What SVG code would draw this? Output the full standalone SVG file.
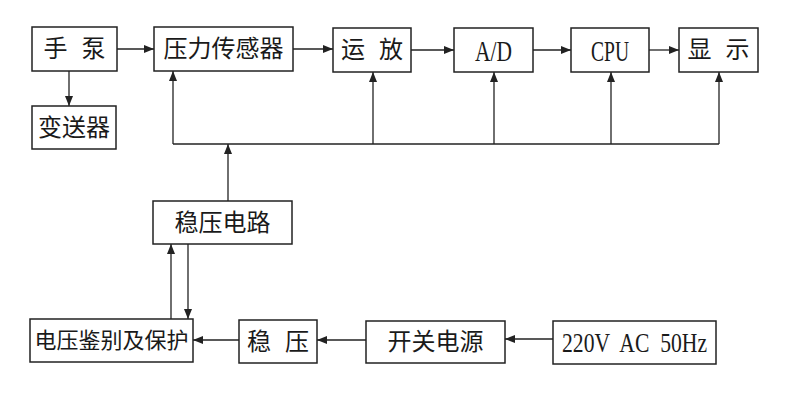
<svg xmlns="http://www.w3.org/2000/svg" width="790" height="403" viewBox="0 0 790 403">
<defs>
<style>
.box{fill:#fff;stroke:#222;stroke-width:1.5}
.cn{font-family:"Liberation Serif","Noto Sans CJK SC",serif;font-size:24px;fill:#1a1a1a;text-anchor:middle;dominant-baseline:central}
.en{font-family:"Liberation Serif",serif;font-size:29px;fill:#1a1a1a;text-anchor:middle;dominant-baseline:central}
.ln{fill:none;stroke:#222;stroke-width:1.3}
.arr{marker-end:url(#ah)}
</style>
<marker id="ah" viewBox="0 0 10 8" refX="10" refY="4" markerWidth="10" markerHeight="8" markerUnits="userSpaceOnUse" orient="auto">
<path d="M0,0 L10,4 L0,8 Z" fill="#222"/>
</marker>
</defs>
<rect width="790" height="403" fill="#fff"/>
<g id="connectors">
<line class="ln arr" x1="117" y1="49" x2="154" y2="49"/>
<line class="ln arr" x1="293" y1="49" x2="333" y2="49"/>
<line class="ln arr" x1="411" y1="50" x2="454" y2="50"/>
<line class="ln arr" x1="533" y1="50" x2="571" y2="50"/>
<line class="ln arr" x1="649" y1="50" x2="679" y2="50"/>
<line class="ln arr" x1="69" y1="71" x2="69" y2="106"/>
<polyline class="ln" points="173,144 719,144"/>
<line class="ln arr" x1="173" y1="144" x2="173" y2="71"/>
<line class="ln arr" x1="373" y1="144" x2="373" y2="72"/>
<line class="ln arr" x1="494" y1="144" x2="494" y2="72"/>
<line class="ln arr" x1="611" y1="144" x2="611" y2="72"/>
<line class="ln arr" x1="719" y1="144" x2="719" y2="72"/>
<line class="ln arr" x1="228" y1="201" x2="228" y2="144"/>
<line class="ln arr" x1="171" y1="319" x2="171" y2="244"/>
<line class="ln arr" x1="188" y1="244" x2="188" y2="319"/>
<line class="ln arr" x1="553" y1="339" x2="505" y2="339"/>
<line class="ln arr" x1="366" y1="340" x2="317" y2="340"/>
<line class="ln arr" x1="239" y1="340" x2="193" y2="340"/>
</g>
<g id="shoubeng"><rect class="box" x="32" y="27" width="85" height="44"/><text class="cn" x="74.5" y="49" style="word-spacing:8px">手 泵</text></g>
<g id="sensor"><rect class="box" x="154" y="27" width="139" height="44"/><text class="cn" x="223.5" y="49">压力传感器</text></g>
<g id="amp"><rect class="box" x="333" y="28" width="78" height="44"/><text class="cn" x="372" y="50" style="word-spacing:8px">运 放</text></g>
<g id="ad"><rect class="box" x="454" y="28" width="79" height="44"/><text class="en" x="493.5" y="51" textLength="37" lengthAdjust="spacingAndGlyphs">A/D</text></g>
<g id="cpu"><rect class="box" x="571" y="28" width="78" height="44"/><text class="en" x="610" y="51" textLength="38" lengthAdjust="spacingAndGlyphs">CPU</text></g>
<g id="display"><rect class="box" x="679" y="28" width="79" height="44"/><text class="cn" x="718.5" y="50" style="word-spacing:8px">显 示</text></g>
<g id="transmitter"><rect class="box" x="32" y="106" width="84" height="43"/><text class="cn" x="74" y="127.5">变送器</text></g>
<g id="regcircuit"><rect class="box" x="153" y="201" width="139" height="43"/><text class="cn" x="222.5" y="222.5">稳压电路</text></g>
<g id="protect"><rect class="box" x="30" y="319" width="163" height="43"/><text class="cn" x="111.5" y="340.5" style="font-size:22px">电压鉴别及保护</text></g>
<g id="reg"><rect class="box" x="239" y="320" width="78" height="43"/><text class="cn" x="278" y="341.5" style="word-spacing:8px">稳 压</text></g>
<g id="psu"><rect class="box" x="366" y="321" width="139" height="42"/><text class="cn" x="435.5" y="342">开关电源</text></g>
<g id="ac"><rect class="box" x="553" y="321" width="163" height="43"/><text class="en" x="634.5" y="343" textLength="145" lengthAdjust="spacingAndGlyphs" xml:space="preserve" style="font-size:27px">220V  AC  50Hz</text></g>
</svg>
